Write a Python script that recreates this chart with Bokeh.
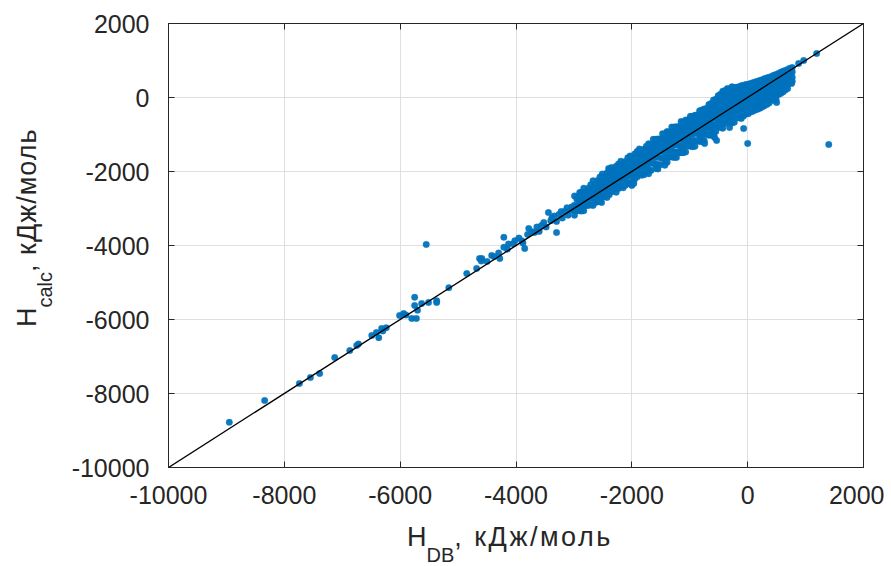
from bokeh.plotting import figure
from bokeh.models import Range1d, LinearAxis, FixedTicker, CustomJSTickFormatter, Div
from bokeh.layouts import row, column
from bokeh.embed import file_html
from bokeh.resources import INLINE

# ---------------- data ----------------
ticks = [-10000, -8000, -6000, -4000, -2000, 0, 2000]
diag = [-10000, 2000]

# sparse points at the low-energy end
sparse_db = [-8950, -8340, -7740, -7550, -7390, -7130, -6870, -6750, -6720, -6490,
             -6410, -6370, -6320, -6240, -6300, -6010, -5940, -5900, -5800, -5720,
             -5750, -5630, -5510, -5370, -5750, -5700, -5370, -5160, -5550, -4850,
             -4680, -4630, -4590, -4600, -4420, -4280, -4210, -4210, -4130, -4020,
             -3900, -3850, -3780, -3680, -3560, -3440, -3300, -3380, -3260, -3160,
             -3040, -2900, -4500, -4380, -4300, -4150, -4050, -3950, -3880, -3800,
             -3720, -3640, -3600, -3520, -3480, -3400, -3340, -3300, -3220, -3200,
             -3120, -3100, -3060]
sparse_calc = [-8780, -8190, -7730, -7570, -7460, -7030, -6840, -6700, -6660, -6430,
               -6350, -6490, -6240, -6220, -6310, -5890, -5840, -5880, -5970, -5970,
               -5620, -5570, -5540, -5540, -5400, -5750, -5490, -5140, -3970, -4760,
               -4620, -4350, -4350, -4420, -4270, -4350, -3780, -4050, -3960, -3870,
               -3870, -4080, -3540, -3650, -3460, -3110, -3650, -3250, -3160, -3080,
               -2960, -2570, -4430, -4300, -4200, -4100, -3950, -3800, -3930, -3700,
               -3630, -3500, -3620, -3380, -3500, -3330, -3200, -3350, -3080, -3260,
               -2980, -3180, -3050]

# dense band (first pass): each H_DB value with the H_calc values read at it
bandA_db = [-2990, -2910, -2830, -2750, -2670, -2590, -2510, -2430, -2350, -2270,
            -2190, -2110, -2030, -1950, -1870, -1790, -1710, -1630, -1550, -1470,
            -1390, -1310, -1230, -1150, -1070, -990, -910, -830, -750, -670,
            -590, -510, -430, -350, -270, -190, -110, -30, 50, 130,
            210, 290, 370, 450, 530, 610, 690, 770]
bandA_calc = [
    [-2660, -2910, -3050, -3180], [-2650, -2790, -2940, -3060],
    [-2450, -2640, -2790, -2940, -3060], [-2450, -2600, -2770, -2920],
    [-2250, -2440, -2580, -2730, -2920], [-2240, -2420, -2570, -2730, -2820],
    [-2070, -2240, -2400, -2540, -2690], [-2040, -2220, -2370, -2530, -2700],
    [-1890, -2050, -2200, -2360, -2550], [-1860, -2030, -2200, -2390, -2560],
    [-1720, -1870, -2030, -2190, -2400], [-1730, -1860, -2020, -2190, -2370],
    [-1580, -1740, -1900, -2070, -2330], [-1530, -1750, -1890, -2090, -2200],
    [-1390, -1540, -1700, -1860, -2060], [-1400, -1530, -1690, -1880, -2090],
    [-1250, -1410, -1570, -1740, -1940, -2060], [-1130, -1290, -1440, -1590, -1780],
    [-1120, -1270, -1440, -1610, -1810, -1930], [-980, -1120, -1270, -1440, -1640],
    [-920, -1080, -1240, -1410, -1610, -1750], [-800, -950, -1100, -1260, -1440, -1610],
    [-790, -940, -1110, -1270, -1470, -1620], [-650, -810, -970, -1130, -1330, -1490],
    [-610, -760, -920, -1080, -1270, -1470], [-510, -660, -820, -990, -1160, -1320],
    [-480, -630, -790, -960, -1160, -1320], [-360, -530, -680, -850, -1020, -1190],
    [-310, -460, -620, -790, -970, -1170], [-190, -350, -510, -670, -840, -1020],
    [-70, -230, -390, -550, -740, -920, -1020], [50, -120, -280, -440, -620, -800],
    [170, 0, -170, -340, -510, -690, -830], [240, 70, -100, -270, -450, -630],
    [290, 130, -40, -210, -390, -570, -690], [280, 130, -30, -190, -360, -540],
    [320, 180, 30, -130, -310, -490, -570], [350, 220, 80, -90, -260, -440],
    [380, 250, 110, -50, -220, -390], [420, 290, 150, -10, -180, -340],
    [460, 330, 190, 30, -140, -290], [510, 380, 240, 80, -90, -220],
    [550, 430, 290, 130, -30, -150], [600, 480, 340, 180, 20, -80],
    [650, 530, 390, 230, 80], [710, 580, 440, 290, 150],
    [760, 640, 490, 350, 240], [810, 690, 550, 440]]

# dense band (second pass, between the first-pass positions)
bandB_db = [-2950, -2870, -2790, -2710, -2630, -2550, -2470, -2390, -2310, -2230,
            -2150, -2070, -1990, -1910, -1830, -1750, -1670, -1590, -1510, -1430,
            -1350, -1270, -1190, -1110, -1030, -950, -870, -790, -710, -630,
            -550, -470, -390, -310, -230, -150, -70, 10, 90, 170,
            250, 330, 410, 490, 570, 650, 730]
bandB_calc = [
    [-2750, -2930, -3060], [-2560, -2770, -2950, -3070], [-2550, -2730, -2920],
    [-2360, -2540, -2700, -2900], [-2340, -2510, -2710, -2840],
    [-2150, -2330, -2500, -2660, -2810], [-2140, -2310, -2480, -2670],
    [-1970, -2140, -2300, -2460, -2630], [-1960, -2120, -2290, -2470],
    [-1800, -1960, -2120, -2280, -2460], [-1790, -1950, -2110, -2290, -2440],
    [-1630, -1800, -1970, -2130, -2300], [-1620, -1780, -1960, -2120, -2270],
    [-1460, -1620, -1790, -1960, -2150], [-1450, -1600, -1770, -1950, -2100],
    [-1320, -1480, -1660, -1820, -2010], [-1270, -1430, -1600, -1780, -1970],
    [-1130, -1290, -1460, -1620, -1800, -1920], [-1120, -1280, -1450, -1630, -1820],
    [-980, -1150, -1330, -1510, -1700, -1830], [-930, -1100, -1270, -1440, -1610],
    [-800, -960, -1130, -1290, -1470, -1620], [-790, -960, -1120, -1300, -1480],
    [-660, -830, -1000, -1170, -1360, -1490], [-610, -780, -940, -1120, -1310],
    [-510, -660, -820, -990, -1160, -1330], [-470, -630, -800, -970, -1170],
    [-340, -520, -690, -860, -1040, -1190], [-300, -460, -630, -820, -1000],
    [-160, -330, -500, -680, -860, -1020], [-50, -220, -400, -570, -750, -920],
    [90, -100, -280, -450, -630, -810], [190, 20, -160, -340, -520, -700],
    [230, 60, -120, -290, -470, -660], [270, 110, -50, -220, -390, -570, -670],
    [290, 150, -20, -190, -370, -550], [330, 190, 30, -140, -320, -500],
    [360, 230, 80, -90, -270, -440], [400, 270, 130, -30, -210, -370],
    [440, 310, 170, 10, -160, -320], [480, 350, 210, 50, -110, -260],
    [530, 400, 260, 100, -60, -190], [570, 450, 310, 150, -10],
    [620, 500, 360, 200, 50, -50], [680, 550, 410, 260, 110],
    [730, 610, 460, 320, 200], [790, 670, 530, 400]]

outlier_db = [-2522, -2000, -2401, -1175, -1966, -70, 0, 500, -571, -743,
              -277, -588, -536, -312, 293, 760, 967, 1191, 1400, 880]
outlier_calc = [-2838, -2378, -1919, -1487, -2325, -838, -1240, -135, -1081, -1244,
                -622, -1027, -1163, -811, -81, 380, 1000, 1189, -1270, 920]

# ---------------- assemble ----------------
xs = list(sparse_db)
ys = list(sparse_calc)
for db, calc in ((bandA_db, bandA_calc), (bandB_db, bandB_calc)):
    for xv, col in zip(db, calc):
        xs += [xv] * len(col)
        ys += col
xs += outlier_db
ys += outlier_calc

FONT = "Liberation Sans"
TXT = "#262626"

p = figure(frame_width=695, frame_height=444,
           min_border_left=99, min_border_right=21,
           min_border_top=23, min_border_bottom=55,
           x_range=Range1d(-10000, 2000), y_range=Range1d(-10000, 2000),
           output_backend="svg", toolbar_location=None)
p.background_fill_color = "white"
p.border_fill_color = "white"
p.outline_line_color = TXT
p.outline_line_width = 1

labels = {t: str(t) for t in ticks}
for ax in (p.xaxis[0], p.yaxis[0]):
    ax.ticker = FixedTicker(ticks=ticks)
    ax.major_label_overrides = labels
    ax.major_tick_in = 6
    ax.major_tick_out = 0
    ax.minor_tick_line_color = None
    ax.axis_line_color = TXT
    ax.major_tick_line_color = TXT
    ax.major_label_text_font = FONT
    ax.major_label_text_font_size = "25px"
    ax.major_label_text_color = TXT
p.xaxis[0].major_label_standoff = 18
p.yaxis[0].major_label_standoff = 19

for loc in ("above", "right"):
    ax = LinearAxis(ticker=FixedTicker(ticks=ticks),
                    formatter=CustomJSTickFormatter(code="return ''"))
    ax.major_tick_in = 6
    ax.major_tick_out = 0
    ax.minor_tick_line_color = None
    ax.axis_line_color = TXT
    ax.major_tick_line_color = TXT
    ax.major_label_text_font_size = "0px"
    ax.major_label_standoff = 0
    p.add_layout(ax, loc)

p.grid.ticker = FixedTicker(ticks=ticks)
p.grid.grid_line_color = "#dfdfdf"
p.grid.grid_line_width = 1

p.scatter(x=xs, y=ys, marker="circle", size=6.5, fill_color="#0072BD",
          line_color="#0072BD", line_width=0.5, fill_alpha=0.95, line_alpha=0.6)
p.line(x=diag, y=diag, line_color="black", line_width=1.3)

# ---------------- axis titles (HTML, with subscripts) ----------------
TITLE_CSS = ("font-family:'Liberation Sans',Arial,sans-serif; font-size:27px; "
             "line-height:27px; color:#262626; white-space:nowrap;")
SUB_CSS = "position:relative; top:16px; font-size:20px;"

xlab = Div(width=823, height=40, margin=0,
           text=('<div style="position:relative; left:339px; top:2px; ' + TITLE_CSS + '">'
                 'H<span style="' + SUB_CSS + '">DB</span>'
                 '<span style="letter-spacing:2.5px;">, кДж/моль</span></div>'))

ylab = Div(width=68, height=562, margin=0,
           text=('<div style="position:relative; left:14px; top:327px; width:0; height:0;">'
                 '<div style="transform-origin:0 0; transform:rotate(-90deg); ' + TITLE_CSS + '">'
                 'H<span style="' + SUB_CSS + '">calc</span>'
                 '<span style="letter-spacing:1px;">, кДж/моль</span></div></div>'))

layout = row(ylab, column(p, xlab))

open("out.html", "w").write(file_html(layout, INLINE))
